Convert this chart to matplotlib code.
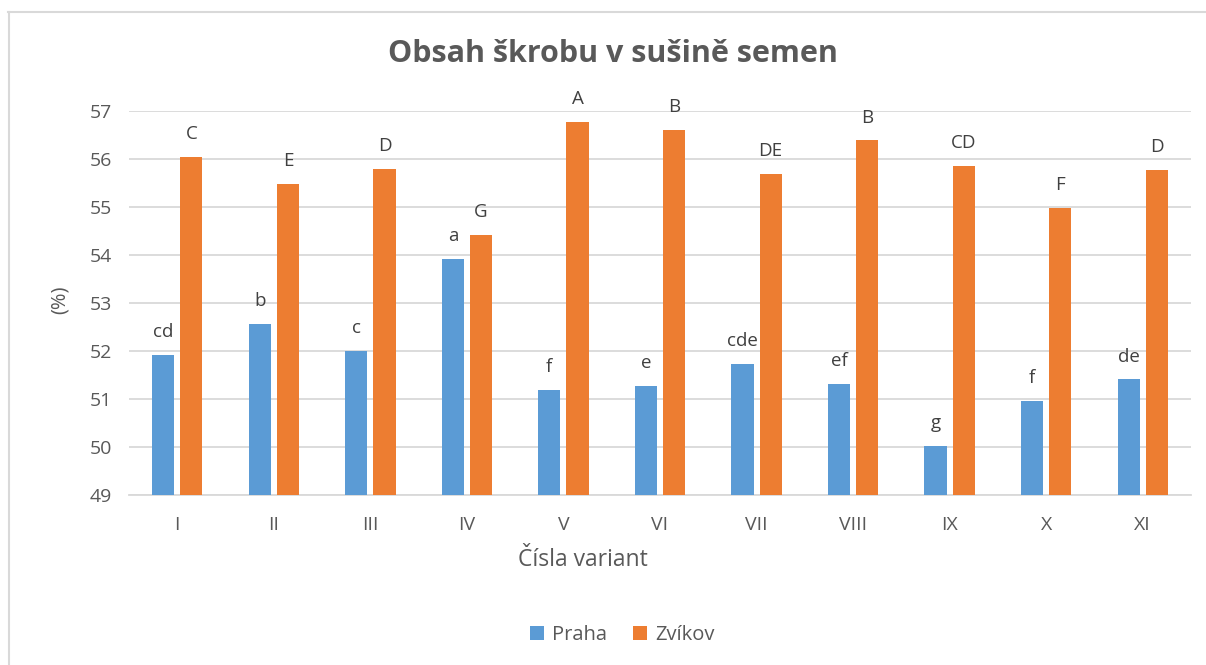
import matplotlib.pyplot as plt
import numpy as np
from matplotlib.lines import Line2D

plt.rcParams['font.family'] = ['Open Sans', 'DejaVu Sans']

variants = ["I", "II", "III", "IV", "V", "VI", "VII", "VIII", "IX", "X", "XI"]
praha = [51.92, 52.56, 52.00, 53.92, 51.18, 51.26, 51.72, 51.30, 50.02, 50.95, 51.40]
zvikov = [56.04, 55.48, 55.79, 54.42, 56.76, 56.60, 55.69, 56.38, 55.84, 54.98, 55.76]
praha_letters = ["cd", "b", "c", "a", "f", "e", "cde", "ef", "g", "f", "de"]
zvikov_letters = ["C", "E", "D", "G", "A", "B", "DE", "B", "CD", "F", "D"]

BLUE = "#5B9BD5"
ORANGE = "#ED7D31"
TEXT = "#595959"
GRID = "#D9D9D9"

W, H = 1206, 665
fig = plt.figure(figsize=(W / 100, H / 100), dpi=100)
ax = fig.add_axes([129 / W, 1 - 494.7 / H, (1191 - 129) / W, (494.7 - 110.7) / H])

x = np.arange(len(variants))
bw = 0.23
off = 0.146
b1 = ax.bar(x - off, [v - 49 for v in praha], bw, bottom=49, color=BLUE, label="Praha", zorder=3)
b2 = ax.bar(x + off, [v - 49 for v in zvikov], bw, bottom=49, color=ORANGE, label="Zvíkov", zorder=3)

# letters of significance above the bars
for xi, v, t in zip(x - off, praha, praha_letters):
    ax.annotate(t, (xi, v), xytext=(0, 10), textcoords="offset points",
                ha="center", va="bottom", fontsize=13.5, color="#404040")
for xi, v, t in zip(x + off, zvikov, zvikov_letters):
    ax.annotate(t, (xi, v), xytext=(0, 10), textcoords="offset points",
                ha="center", va="bottom", fontsize=13.5, color="#404040")

ax.set_xlim(-0.5, len(variants) - 0.5)
ax.set_ylim(49, 57)
ax.set_yticks(range(49, 58))
ax.set_xticks(x)
ax.set_xticklabels(variants)
ax.tick_params(axis="both", length=0, labelsize=14, labelcolor=TEXT)
ax.tick_params(axis="y", pad=12)
ax.tick_params(axis="x", pad=15)
ax.grid(axis="y", color=GRID, linewidth=1.3, zorder=0)
for s in ["top", "right", "left"]:
    ax.spines[s].set_visible(False)
ax.spines["bottom"].set_color(GRID)
ax.spines["bottom"].set_linewidth(1.3)

fig.text(583 / W, 1 - 560 / H, "Čísla variant", ha="center", va="center", fontsize=16.5, color=TEXT)
fig.text(60 / W, 1 - 300 / H, "(%)", ha="center", va="center", rotation=90, fontsize=14.5, color=TEXT)
fig.text(613 / W, 1 - 54 / H, "Obsah škrobu v sušině semen", ha="center", va="center",
         fontsize=22, fontweight="bold", color=TEXT)

fig.legend(handles=[b1, b2], loc="center", bbox_to_anchor=(622 / W, 1 - 635 / H), ncol=2,
           frameon=False, fontsize=14.5, labelcolor=TEXT, handlelength=0.7, handleheight=0.7,
           handletextpad=0.4, columnspacing=1.3)

fig.add_artist(Line2D([8 / W, 1], [1 - 12 / H, 1 - 12 / H], color=GRID, linewidth=1.5))
fig.add_artist(Line2D([9 / W, 9 / W], [1 - 12 / H, 0], color=GRID, linewidth=1.5))

fig.savefig("out.png", dpi=100)
